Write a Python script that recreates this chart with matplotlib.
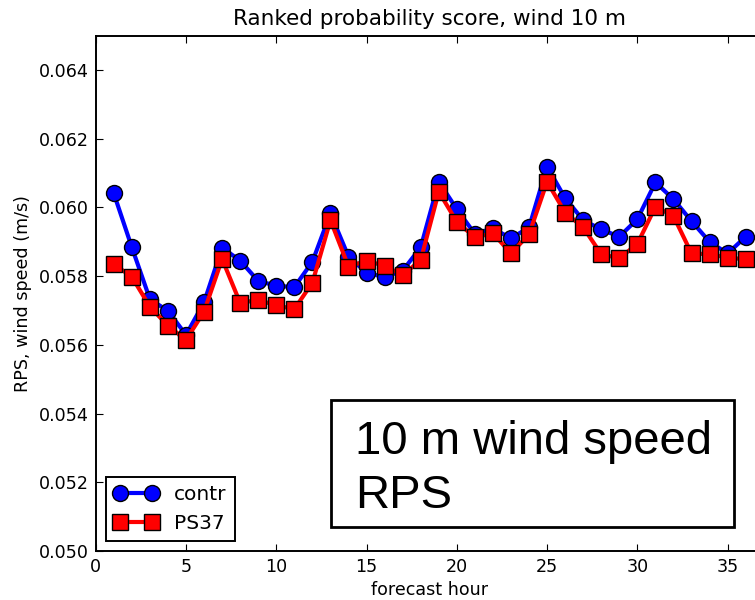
import matplotlib
matplotlib.use("Agg")
import matplotlib.pyplot as plt
from matplotlib.patches import Rectangle

# Forecast hours and ranked probability scores for the two experiments
hours = list(range(1, 37))
contr = [0.06041, 0.05884, 0.05733, 0.05699, 0.05629, 0.05724, 0.05883, 0.05845,
         0.05786, 0.05772, 0.05768, 0.05842, 0.05983, 0.05857, 0.05810, 0.05797,
         0.05816, 0.05884, 0.06075, 0.05995, 0.05923, 0.05939, 0.05910, 0.05942,
         0.06119, 0.06027, 0.05963, 0.05936, 0.05915, 0.05966, 0.06073, 0.06024,
         0.05960, 0.05900, 0.05866, 0.05915]
ps37 = [0.05835, 0.05798, 0.05711, 0.05656, 0.05614, 0.05697, 0.05850, 0.05722,
        0.05731, 0.05715, 0.05704, 0.05781, 0.05963, 0.05828, 0.05845, 0.05830,
        0.05803, 0.05847, 0.06046, 0.05958, 0.05913, 0.05925, 0.05866, 0.05922,
        0.06075, 0.05985, 0.05942, 0.05864, 0.05852, 0.05894, 0.06002, 0.05975,
        0.05866, 0.05864, 0.05854, 0.05849]

xticks = [0, 5, 10, 15, 20, 25, 30, 35]
yticks = [0.050, 0.052, 0.054, 0.056, 0.058, 0.060, 0.062, 0.064]

plt.rcParams['font.family'] = ['DejaVu Sans']

fig = plt.figure(figsize=(7.55, 6.0), dpi=100)
ax = fig.add_axes([0.1268, 0.0817, 0.8848, 0.8588])

ax.plot(hours, contr, color='blue', lw=3.0, marker='o', ms=11.5,
        mec='black', mew=1.0, label='contr')
ax.plot(hours, ps37, color='red', lw=3.0, marker='s', ms=11,
        mec='black', mew=1.0, label='PS37')

ax.set_xlim(0, 37)
ax.set_ylim(0.050, 0.065)
ax.set_xticks(xticks)
ax.set_yticks(yticks)
ax.set_yticklabels([f"{v:.3f}" for v in yticks])

for s in ax.spines.values():
    s.set_linewidth(1.4)
ax.tick_params(direction='in', top=True, right=True, length=5, width=0.8,
               labelsize=12.6, pad=5)

ax.set_title("Ranked probability score, wind 10 m", fontsize=15.5, pad=8)
ax.set_xlabel("forecast hour", fontsize=12.6, labelpad=4)
ax.set_ylabel("RPS, wind speed (m/s)", fontsize=12.6, labelpad=5)

leg = ax.legend(loc='lower left', fontsize=14.5, numpoints=2, handlelength=2.2,
                fancybox=False, framealpha=1.0, edgecolor='black',
                borderpad=0.4, labelspacing=0.5, handletextpad=0.8,
                borderaxespad=0.5)
leg.get_frame().set_linewidth(1.4)

# Annotation box
ax.add_patch(Rectangle((0.3522, 0.0466), 0.6033, 0.2464, transform=ax.transAxes,
                       fill=True, facecolor='white', edgecolor='black', lw=2.0,
                       zorder=5, clip_on=False))
ax.text(0.3875, 0.1882, "10 m wind speed", transform=ax.transAxes,
        fontsize=34, family='Liberation Sans', ha='left', va='baseline', zorder=6)
ax.text(0.3885, 0.0829, "RPS", transform=ax.transAxes,
        fontsize=34, family='Liberation Sans', ha='left', va='baseline', zorder=6)

fig.savefig("out.png", dpi=100, facecolor='white')
